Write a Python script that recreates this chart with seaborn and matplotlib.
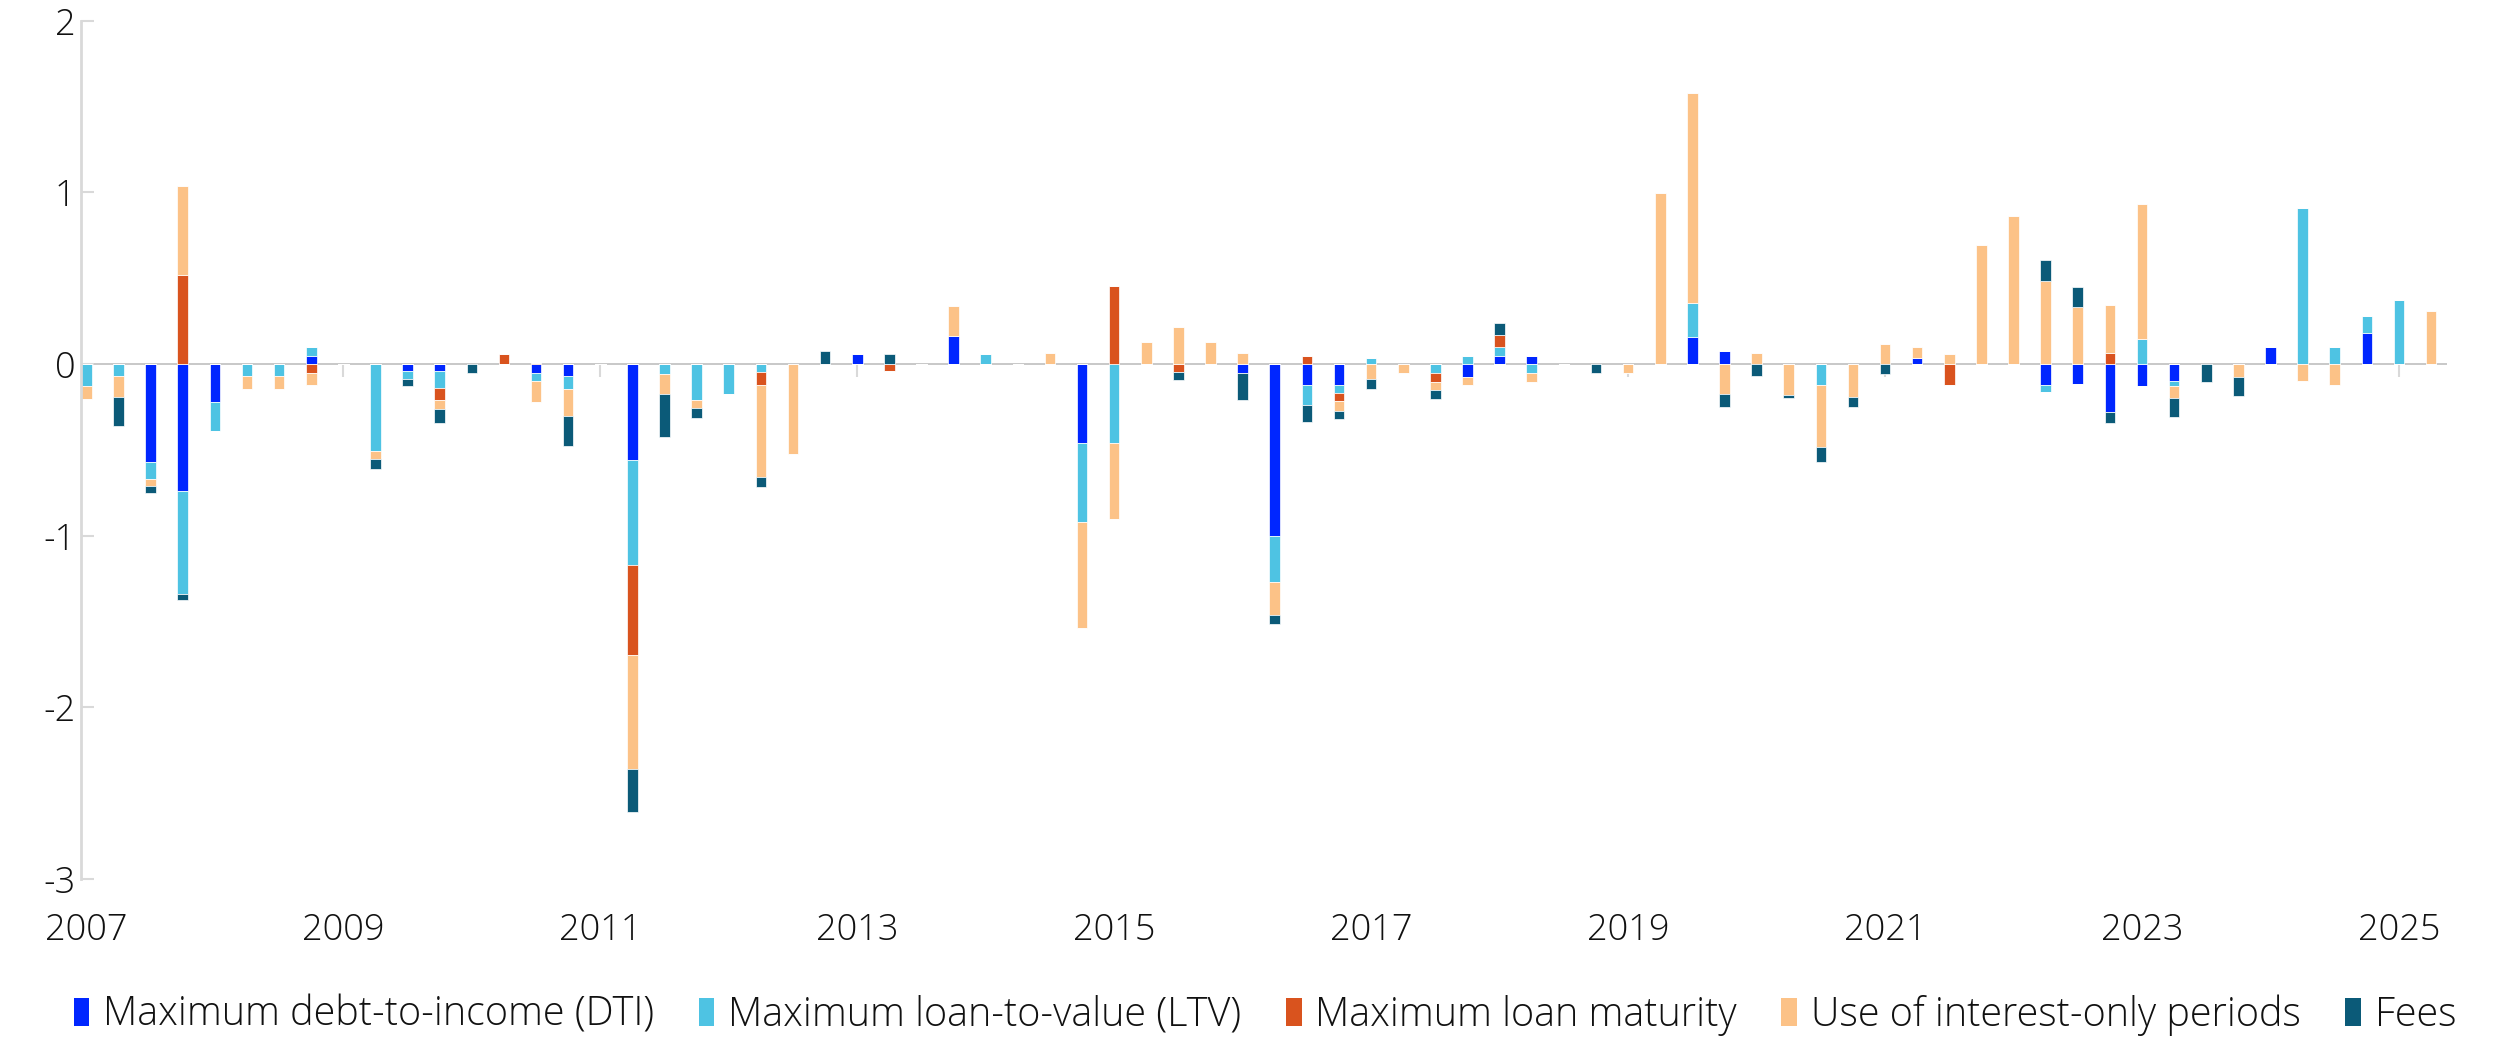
import numpy as np
import pandas as pd
import matplotlib
matplotlib.use("Agg")
import matplotlib.pyplot as plt
from matplotlib.patches import Patch
import seaborn as sns

# quarterly contributions, 2007Q1 .. 2025Q2 (one row = two years)
dti = [
    0, 0, -0.57, -0.74, -0.22, 0, 0, 0.045,
    0, 0, -0.04, -0.04, 0, 0, -0.05, -0.07,
    0, -0.56, 0, 0, 0, 0, 0, 0,
    0.056, 0, 0, 0.165, 0, 0, 0, -0.46,
    0, 0, 0, 0, -0.05, -1.0, -0.12, -0.12,
    0, 0, 0, -0.074, 0.047, 0.047, 0, 0,
    0, 0, 0.157, 0.077, 0, 0, 0, 0,
    0, 0.037, 0, 0, 0, -0.124, -0.114, -0.278,
    -0.13, -0.10, 0, 0, 0.097, 0, 0, 0.18,
    0, 0,
]
ltv = [
    -0.13, -0.07, -0.10, -0.60, -0.17, -0.07, -0.07, 0.053,
    0, -0.505, -0.045, -0.10, 0, 0, -0.05, -0.073,
    0, -0.611, -0.061, -0.212, -0.173, -0.045, 0, 0,
    0, 0, 0, 0, 0.056, 0, 0, -0.46,
    -0.463, 0, 0, 0, 0, -0.27, -0.12, -0.05,
    0.037, 0, -0.054, 0.047, 0.05, -0.054, 0, 0,
    0, 0, 0.20, 0, 0, 0, -0.124, 0,
    0, 0, 0, 0, 0, -0.04, 0, 0,
    0.147, -0.027, 0, 0, 0, 0.91, 0.097, 0.10,
    0.371, 0,
]
maturity = [
    0, 0, 0, 0.516, 0, 0, 0, -0.053,
    0, 0, 0, -0.07, 0, 0.059, 0.008, 0,
    0, -0.527, 0, 0, 0, -0.078, 0, 0,
    0, -0.042, 0, 0, 0, 0, 0, 0,
    0.457, 0, -0.045, 0, 0, 0, 0.047, -0.047,
    0, 0, -0.05, 0, 0.07, 0, 0, 0,
    0, 0, 0, 0, 0, 0, 0, 0,
    0, 0, -0.124, 0, 0, 0, 0, 0.064,
    0, 0, 0, 0, 0, 0, 0, 0,
    0, 0,
]
interest_only = [
    -0.075, -0.12, -0.04, 0.522, 0, -0.073, -0.073, -0.07,
    0, -0.047, 0, -0.05, 0, 0, -0.12, -0.16,
    0, -0.661, -0.112, -0.042, 0, -0.533, -0.522, 0,
    0, 0, 0, 0.173, 0, 0, 0.067, -0.616,
    -0.438, 0.128, 0.215, 0.128, 0.067, -0.19, 0, -0.054,
    -0.09, -0.054, -0.05, -0.05, 0, -0.05, 0, 0,
    -0.054, 0.997, 1.222, -0.174, 0.067, -0.18, -0.361, -0.19,
    0.117, 0.06, 0.057, 0.696, 0.863, 0.485, 0.331, 0.281,
    0.786, -0.07, 0, -0.077, 0, -0.097, -0.12, 0,
    0, 0.308,
]
fees = [
    0, -0.173, -0.04, -0.036, 0, 0, 0, 0,
    0, -0.059, -0.045, -0.084, -0.05, 0, 0, -0.173,
    0, -0.251, -0.254, -0.059, 0, -0.059, 0, 0.078,
    0, 0.056, 0, 0, 0, 0, 0, 0,
    0, 0, -0.047, 0, -0.162, -0.053, -0.10, -0.05,
    -0.057, 0, -0.05, 0, 0.07, 0, 0, -0.054,
    0, 0, 0, -0.077, -0.07, -0.02, -0.087, -0.06,
    -0.06, 0, 0, 0, 0, 0.12, 0.117, -0.067,
    0, -0.114, -0.107, -0.107, 0, 0, 0, 0,
    0, 0,
]

quarters = pd.period_range("2007Q1", "2025Q2", freq="Q")
year_labels = [str(y) for y in range(2007, 2026, 2)]

series_names = [
    "Maximum debt-to-income (DTI)",
    "Maximum loan-to-value (LTV)",
    "Maximum loan maturity",
    "Use of interest-only periods",
    "Fees",
]
colors = ["#0026FF", "#4EC3E3", "#D9531E", "#FCC287", "#0B5A78"]

df = pd.DataFrame(
    dict(zip(series_names, [dti, ltv, maturity, interest_only, fees])),
    index=quarters,
)

sns.set_theme(style="white")
plt.rcParams["font.family"] = ["Open Sans", "DejaVu Sans"]
plt.rcParams["font.weight"] = "light"
text_color = "#111111"

fig = plt.figure(figsize=(25.05, 10.4), dpi=100)
ax = fig.add_axes([0.0323, 0.155, 0.9446, 0.825])

# positives stack up from zero, negatives stack down, same series order
x = np.arange(len(df))
pos_base = np.zeros(len(df))
neg_base = np.zeros(len(df))
for name, col in zip(series_names, colors):
    v = df[name].to_numpy()
    pos = np.where(v > 0, v, 0)
    neg = np.where(v < 0, v, 0)
    ax.bar(x, pos, bottom=pos_base, width=0.33, color=col,
           edgecolor="white", linewidth=0.5)
    ax.bar(x, neg, bottom=neg_base, width=0.33, color=col,
           edgecolor="white", linewidth=0.5)
    pos_base += pos
    neg_base += neg

ax.axhline(0, color="#C8C8C8", lw=1.4, zorder=0)

year_pos = [i for i, q in enumerate(quarters) if q.quarter == 1 and q.year % 2 == 1]
ax.plot(year_pos, np.zeros(len(year_pos)), ls="", marker=3, ms=9,
        mec="#D9D9D9", mew=1.5, zorder=0)

ax.set_xlim(-0.17, len(df) - 0.5)
ax.set_ylim(-3, 2)
ax.set_yticks([-3, -2, -1, 0, 1, 2])
ax.set_yticklabels(["-3", "-2", "-1", "0", "1", "2"])
ax.set_xticks(year_pos)
ax.set_xticklabels(year_labels)

for s in ["top", "right", "bottom"]:
    ax.spines[s].set_visible(False)
ax.spines["left"].set_color("#D9D9D9")
ax.spines["left"].set_linewidth(2)

ax.tick_params(axis="y", direction="in", length=9, width=1.5, color="#D9D9D9",
               labelsize=26, labelcolor=text_color, pad=4, left=True)
ax.tick_params(axis="x", length=0, labelsize=26, labelcolor=text_color, pad=24)

handles = [Patch(facecolor=c, edgecolor="none") for c in colors]
fig.legend(handles, series_names, loc="lower center", ncol=5,
           bbox_to_anchor=(0.505, -0.03), frameon=False, fontsize=28.5,
           handlelength=0.4, handleheight=0.7, handletextpad=0.35,
           columnspacing=1.12, labelcolor=text_color)

fig.savefig("out.png", dpi=100)
